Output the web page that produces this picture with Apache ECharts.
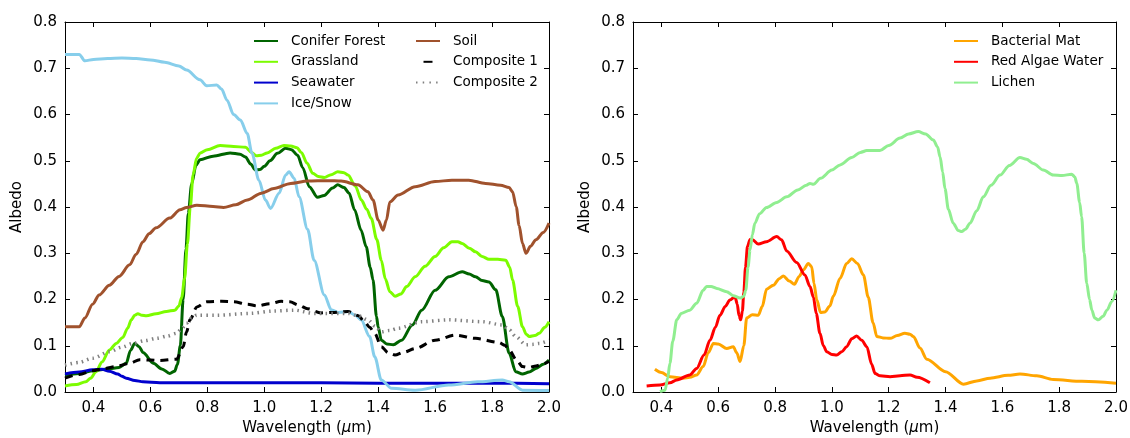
<!DOCTYPE html>
<html>
<head>
<meta charset="utf-8">
<script src="https://cdn.jsdelivr.net/npm/echarts@6/dist/echarts.min.js"></script>
<style>
  html, body { margin: 0; padding: 0; background: #fff; }
  #chart { width: 1130px; height: 438px; }
</style>
</head>
<body>
<div id="chart"></div>
<script>
// Spectral albedo curves, [wavelength (µm), albedo]
const coniferForest = [[0.30,0.036],[0.35,0.040],[0.40,0.046],[0.45,0.050],[0.49,0.053],[0.515,0.062],[0.53,0.090],[0.545,0.105],[0.56,0.098],[0.575,0.085],[0.61,0.062],[0.64,0.050],[0.668,0.040],[0.685,0.045],[0.695,0.060],[0.705,0.100],[0.715,0.200],[0.725,0.310],[0.733,0.386],[0.745,0.450],[0.76,0.490],[0.774,0.502],[0.82,0.510],[0.88,0.517],[0.915,0.514],[0.934,0.508],[0.952,0.493],[0.969,0.480],[0.985,0.481],[1.00,0.488],[1.02,0.500],[1.046,0.516],[1.075,0.527],[1.095,0.524],[1.117,0.512],[1.135,0.485],[1.158,0.444],[1.187,0.421],[1.21,0.425],[1.24,0.441],[1.258,0.448],[1.28,0.442],[1.298,0.430],[1.317,0.394],[1.34,0.350],[1.358,0.314],[1.372,0.270],[1.382,0.242],[1.394,0.163],[1.40,0.141],[1.411,0.112],[1.43,0.104],[1.453,0.102],[1.482,0.112],[1.52,0.145],[1.553,0.177],[1.60,0.220],[1.648,0.249],[1.695,0.260],[1.72,0.255],[1.742,0.249],[1.765,0.241],[1.789,0.238],[1.813,0.221],[1.836,0.163],[1.86,0.084],[1.883,0.044],[1.907,0.039],[1.93,0.043],[1.954,0.051],[1.98,0.060],[2.00,0.069]];
const grassland = [[0.30,0.013],[0.34,0.016],[0.373,0.022],[0.39,0.030],[0.409,0.044],[0.43,0.065],[0.456,0.091],[0.48,0.105],[0.503,0.118],[0.52,0.138],[0.533,0.156],[0.545,0.166],[0.556,0.169],[0.57,0.166],[0.586,0.165],[0.62,0.169],[0.656,0.174],[0.686,0.177],[0.70,0.186],[0.71,0.205],[0.72,0.245],[0.73,0.320],[0.74,0.400],[0.75,0.470],[0.762,0.505],[0.775,0.517],[0.80,0.524],[0.845,0.533],[0.892,0.531],[0.934,0.529],[0.955,0.518],[0.972,0.511],[0.99,0.512],[1.01,0.517],[1.04,0.527],[1.069,0.533],[1.093,0.532],[1.115,0.528],[1.13,0.518],[1.15,0.495],[1.17,0.473],[1.19,0.466],[1.211,0.464],[1.235,0.470],[1.258,0.476],[1.28,0.474],[1.294,0.469],[1.32,0.445],[1.341,0.415],[1.36,0.395],[1.376,0.375],[1.395,0.330],[1.411,0.285],[1.425,0.245],[1.441,0.217],[1.459,0.207],[1.48,0.212],[1.50,0.228],[1.53,0.249],[1.565,0.272],[1.60,0.293],[1.63,0.312],[1.659,0.325],[1.68,0.325],[1.695,0.321],[1.72,0.311],[1.742,0.303],[1.765,0.293],[1.789,0.287],[1.82,0.287],[1.848,0.285],[1.862,0.270],[1.872,0.242],[1.89,0.185],[1.907,0.141],[1.92,0.125],[1.931,0.120],[1.95,0.122],[1.966,0.127],[1.985,0.140],[2.00,0.152]];
const seawater = [[0.30,0.039],[0.35,0.043],[0.397,0.048],[0.43,0.049],[0.456,0.045],[0.485,0.039],[0.50,0.034],[0.515,0.030],[0.545,0.025],[0.574,0.022],[0.633,0.020],[0.80,0.020],[1.00,0.020],[1.20,0.020],[1.40,0.019],[1.60,0.019],[1.80,0.019],[2.00,0.018]];
const iceSnow = [[0.30,0.730],[0.35,0.730],[0.37,0.716],[0.40,0.719],[0.45,0.721],[0.50,0.722],[0.55,0.721],[0.60,0.718],[0.65,0.713],[0.70,0.705],[0.727,0.696],[0.774,0.675],[0.798,0.662],[0.833,0.664],[0.85,0.655],[0.869,0.631],[0.892,0.600],[0.916,0.588],[0.94,0.559],[0.957,0.516],[0.981,0.458],[1.004,0.415],[1.022,0.397],[1.052,0.430],[1.075,0.469],[1.087,0.476],[1.105,0.462],[1.122,0.422],[1.152,0.352],[1.175,0.285],[1.211,0.210],[1.235,0.178],[1.26,0.172],[1.294,0.174],[1.32,0.166],[1.34,0.156],[1.37,0.120],[1.388,0.076],[1.411,0.026],[1.447,0.008],[1.53,0.004],[1.648,0.015],[1.75,0.022],[1.836,0.026],[1.86,0.022],[1.907,0.004],[2.00,0.003]];
const soil = [[0.30,0.141],[0.35,0.141],[0.37,0.160],[0.397,0.190],[0.42,0.210],[0.456,0.231],[0.49,0.250],[0.527,0.275],[0.55,0.298],[0.574,0.325],[0.595,0.342],[0.62,0.355],[0.668,0.376],[0.704,0.394],[0.727,0.399],[0.763,0.404],[0.82,0.401],[0.857,0.399],[0.90,0.405],[0.94,0.415],[0.99,0.430],[1.034,0.440],[1.093,0.451],[1.152,0.456],[1.223,0.457],[1.27,0.456],[1.329,0.448],[1.364,0.433],[1.382,0.415],[1.40,0.372],[1.417,0.350],[1.429,0.372],[1.441,0.411],[1.47,0.426],[1.53,0.444],[1.60,0.455],[1.659,0.458],[1.718,0.458],[1.777,0.451],[1.83,0.447],[1.86,0.442],[1.872,0.433],[1.885,0.400],[1.895,0.360],[1.907,0.321],[1.919,0.300],[1.935,0.315],[1.954,0.329],[1.98,0.345],[2.00,0.365]];
const composite1 = [[0.30,0.030],[0.35,0.038],[0.397,0.046],[0.44,0.051],[0.479,0.055],[0.527,0.062],[0.562,0.070],[0.60,0.069],[0.633,0.068],[0.692,0.071],[0.715,0.098],[0.727,0.130],[0.739,0.156],[0.763,0.184],[0.798,0.195],[0.85,0.196],[0.892,0.195],[0.94,0.190],[0.975,0.186],[1.02,0.191],[1.06,0.196],[1.09,0.195],[1.12,0.188],[1.152,0.180],[1.199,0.171],[1.24,0.172],[1.294,0.174],[1.33,0.165],[1.352,0.152],[1.37,0.140],[1.388,0.127],[1.411,0.098],[1.435,0.085],[1.459,0.080],[1.49,0.086],[1.53,0.094],[1.60,0.112],[1.671,0.123],[1.742,0.116],[1.825,0.107],[1.845,0.101],[1.86,0.091],[1.885,0.070],[1.907,0.055],[1.93,0.053],[1.954,0.056],[1.98,0.061],[2.00,0.066]];
const composite2 = [[0.30,0.058],[0.35,0.064],[0.397,0.073],[0.456,0.087],[0.50,0.097],[0.538,0.105],[0.58,0.111],[0.621,0.116],[0.66,0.121],[0.692,0.127],[0.71,0.137],[0.727,0.149],[0.745,0.160],[0.763,0.166],[0.833,0.166],[0.951,0.170],[1.03,0.175],[1.105,0.177],[1.175,0.170],[1.294,0.170],[1.33,0.165],[1.364,0.156],[1.39,0.142],[1.411,0.130],[1.44,0.133],[1.47,0.138],[1.553,0.152],[1.648,0.156],[1.765,0.152],[1.836,0.145],[1.86,0.135],[1.883,0.120],[1.919,0.102],[1.945,0.103],[1.966,0.105],[2.00,0.112]];

const bacterialMat = [[0.377,0.049],[0.40,0.042],[0.43,0.033],[0.477,0.030],[0.50,0.032],[0.524,0.037],[0.547,0.055],[0.565,0.085],[0.583,0.105],[0.60,0.104],[0.63,0.094],[0.653,0.098],[0.665,0.085],[0.677,0.066],[0.69,0.100],[0.70,0.160],[0.72,0.167],[0.741,0.166],[0.755,0.185],[0.77,0.222],[0.794,0.231],[0.815,0.245],[0.829,0.251],[0.85,0.240],[0.868,0.233],[0.885,0.250],[0.90,0.264],[0.917,0.278],[0.929,0.271],[0.937,0.235],[0.947,0.199],[0.96,0.172],[0.975,0.173],[0.993,0.186],[1.005,0.207],[1.029,0.246],[1.052,0.278],[1.07,0.288],[1.09,0.278],[1.111,0.253],[1.128,0.205],[1.145,0.150],[1.158,0.120],[1.18,0.117],[1.205,0.116],[1.23,0.122],[1.257,0.127],[1.275,0.125],[1.287,0.120],[1.31,0.095],[1.334,0.071],[1.40,0.044],[1.463,0.017],[1.51,0.024],[1.557,0.030],[1.62,0.036],[1.662,0.039],[1.721,0.035],[1.779,0.027],[1.88,0.023],[2.00,0.019]];
const redAlgaeWater = [[0.348,0.013],[0.395,0.015],[0.43,0.020],[0.454,0.026],[0.50,0.037],[0.524,0.051],[0.55,0.080],[0.571,0.112],[0.59,0.140],[0.606,0.166],[0.625,0.185],[0.641,0.199],[0.659,0.206],[0.667,0.190],[0.673,0.165],[0.679,0.156],[0.685,0.175],[0.690,0.215],[0.696,0.270],[0.703,0.315],[0.712,0.330],[0.721,0.329],[0.741,0.320],[0.77,0.325],[0.806,0.336],[0.823,0.329],[0.841,0.305],[0.876,0.280],[0.905,0.253],[0.923,0.228],[0.935,0.205],[0.945,0.170],[0.958,0.127],[0.97,0.100],[0.982,0.087],[1.00,0.081],[1.017,0.080],[1.035,0.087],[1.052,0.098],[1.07,0.115],[1.087,0.121],[1.105,0.112],[1.123,0.098],[1.14,0.060],[1.152,0.040],[1.17,0.035],[1.205,0.033],[1.24,0.035],[1.275,0.037],[1.30,0.032],[1.345,0.020]];
const lichen = [[0.395,0.001],[0.413,0.004],[0.422,0.030],[0.43,0.062],[0.44,0.110],[0.454,0.156],[0.47,0.170],[0.50,0.177],[0.524,0.192],[0.547,0.220],[0.559,0.228],[0.575,0.228],[0.595,0.224],[0.63,0.217],[0.653,0.208],[0.677,0.203],[0.690,0.207],[0.697,0.220],[0.705,0.270],[0.712,0.307],[0.72,0.340],[0.729,0.365],[0.745,0.385],[0.77,0.399],[0.806,0.410],[0.841,0.422],[0.88,0.437],[0.91,0.447],[0.923,0.451],[0.935,0.449],[0.96,0.462],[1.00,0.480],[1.029,0.491],[1.07,0.507],[1.10,0.518],[1.123,0.522],[1.169,0.522],[1.20,0.533],[1.24,0.549],[1.27,0.558],[1.304,0.563],[1.33,0.558],[1.357,0.545],[1.372,0.530],[1.381,0.508],[1.39,0.475],[1.398,0.440],[1.41,0.395],[1.427,0.365],[1.445,0.349],[1.457,0.347],[1.47,0.352],[1.486,0.365],[1.51,0.392],[1.533,0.422],[1.56,0.447],[1.592,0.469],[1.625,0.490],[1.662,0.507],[1.685,0.503],[1.709,0.494],[1.744,0.480],[1.779,0.469],[1.81,0.468],[1.844,0.471],[1.855,0.465],[1.862,0.451],[1.872,0.410],[1.879,0.379],[1.888,0.300],[1.897,0.235],[1.907,0.200],[1.915,0.177],[1.925,0.160],[1.938,0.156],[1.955,0.164],[1.968,0.177],[1.985,0.195],[2.00,0.220]];

// Axis ticks
const xTicks = [0.4, 0.6, 0.8, 1.0, 1.2, 1.4, 1.6, 1.8, 2.0];
const xRange = [0.3, 2.0];
const yRange = [0.0, 0.8];
const yStep = 0.1;

const FONT = 'DejaVu Sans';
const fmt1 = v => Number(v).toFixed(1);

function xAxisPair(gridIndex) {
  const common = {
    type: 'value', gridIndex, min: xRange[0], max: xRange[1],
    splitLine: { show: false },
    axisLine: { show: true, onZero: false, lineStyle: { color: '#000', width: 1 } },
    axisTick: { show: true, inside: true, length: 5, customValues: xTicks, lineStyle: { color: '#000', width: 1 } }
  };
  return [
    Object.assign({}, common, {
      position: 'bottom',
      axisLabel: { show: true, customValues: xTicks, formatter: fmt1, color: '#000', fontFamily: FONT, fontSize: 15, margin: 9 },
      name: 'Wavelength ({it|μ}m)', nameLocation: 'middle', nameGap: 29,
      nameTextStyle: { color: '#000', fontFamily: FONT, fontSize: 15, rich: { it: { fontStyle: 'italic', fontFamily: FONT, fontSize: 15, color: '#000' } } }
    }),
    Object.assign({}, common, { position: 'top', axisLabel: { show: false } })
  ];
}

function yAxisPair(gridIndex) {
  const common = {
    type: 'value', gridIndex, min: yRange[0], max: yRange[1], interval: yStep,
    splitLine: { show: false },
    axisLine: { show: true, onZero: false, lineStyle: { color: '#000', width: 1 } },
    axisTick: { show: true, inside: true, length: 5, lineStyle: { color: '#000', width: 1 } }
  };
  return [
    Object.assign({}, common, {
      position: 'left',
      axisLabel: { show: true, formatter: fmt1, color: '#000', fontFamily: FONT, fontSize: 15, margin: 8 },
      name: 'Albedo', nameLocation: 'middle', nameGap: 40, nameRotate: 90,
      nameTextStyle: { color: '#000', fontFamily: FONT, fontSize: 15 }
    }),
    Object.assign({}, common, { position: 'right', axisLabel: { show: false } })
  ];
}

function line(name, data, color, grid, extra) {
  return Object.assign({
    name, type: 'line', data,
    xAxisIndex: grid * 2, yAxisIndex: grid * 2,
    showSymbol: false, symbol: 'none',
    smooth: 0.3, smoothMonotone: 'x',
    lineStyle: { color, width: 3, cap: 'butt' },
    itemStyle: { color },
    emphasis: { disabled: true },
    animation: false, z: 2
  }, extra || {});
}

const legendText = { color: '#000', fontFamily: FONT, fontSize: 13.5, padding: [0, 0, 0, 8] };
const legendBase = {
  orient: 'vertical', itemWidth: 24, itemHeight: 14, itemGap: 6.8,
  textStyle: legendText, selectedMode: false, padding: 0,
  itemStyle: { opacity: 0 }
};

const option = {
  backgroundColor: '#fff',
  animation: false,
  grid: [
    { left: 65, top: 22, width: 484, height: 370, containLabel: false, outerBoundsMode: 'none' },
    { left: 633, top: 22, width: 483, height: 370, containLabel: false, outerBoundsMode: 'none' }
  ],
  xAxis: [...xAxisPair(0), ...xAxisPair(1)],
  yAxis: [...yAxisPair(0), ...yAxisPair(1)],
  legend: [
    Object.assign({}, legendBase, { left: 253, top: 34, data: ['Conifer Forest', 'Grassland', 'Seawater', 'Ice/Snow'] }),
    Object.assign({}, legendBase, { left: 415, top: 34, data: [
      'Soil',
      { name: 'Composite 1', lineStyle: { type: [9, 40], dashOffset: 41.5 } },
      { name: 'Composite 2', lineStyle: { type: [1.5, 5.2], dashOffset: 0 } }
    ] }),
    Object.assign({}, legendBase, { left: 953, top: 34, data: ['Bacterial Mat', 'Red Algae Water', 'Lichen'] })
  ],
  series: [
    line('Conifer Forest', coniferForest, '#006400', 0),
    line('Grassland', grassland, '#7CFC00', 0),
    line('Seawater', seawater, '#0000CD', 0),
    line('Ice/Snow', iceSnow, '#87CEEB', 0),
    line('Soil', soil, '#A0522D', 0),
    line('Composite 1', composite1, '#000000', 0, { lineStyle: { color: '#000', width: 3, type: [8, 6], cap: 'butt' } }),
    line('Composite 2', composite2, '#808080', 0, { lineStyle: { color: '#808080', width: 3.5, type: [1.5, 4.2], cap: 'butt' } }),
    line('Bacterial Mat', bacterialMat, '#FFA500', 1),
    line('Red Algae Water', redAlgaeWater, '#FF0000', 1),
    line('Lichen', lichen, '#90EE90', 1)
  ]
};

const chart = echarts.init(document.getElementById('chart'), null, { renderer: 'canvas' });
chart.setOption(option);
</script>
</body>
</html>
